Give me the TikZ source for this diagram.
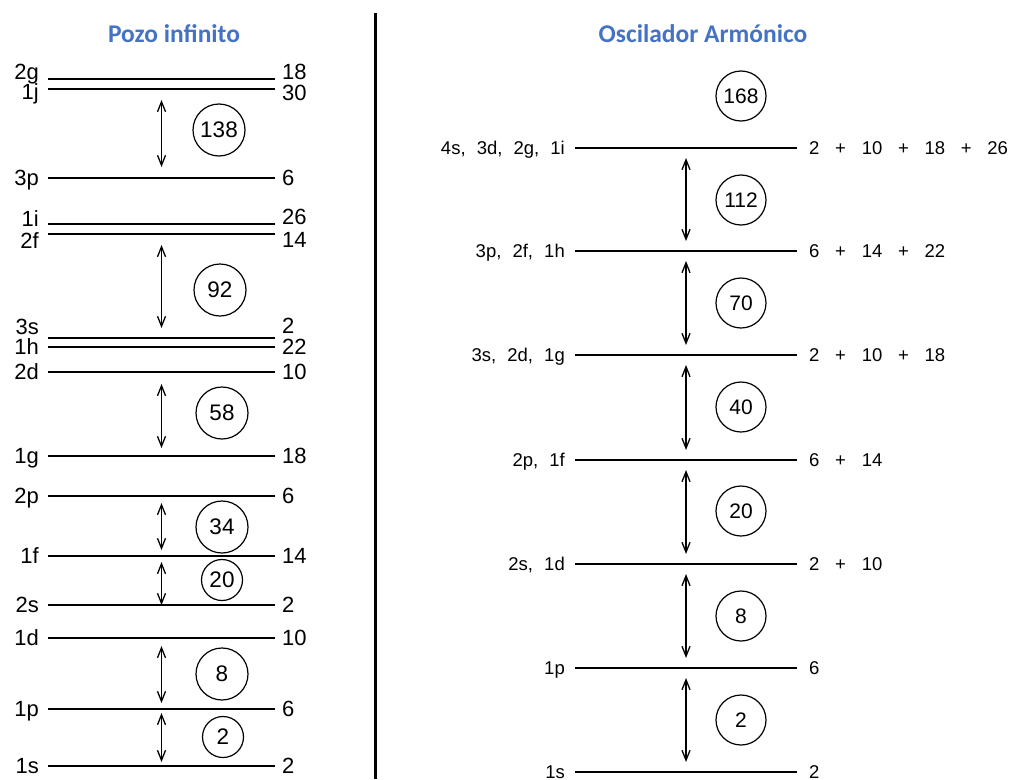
\documentclass[tikz,border=0pt]{standalone}
\usepackage{fontspec}
\setmainfont{Liberation Sans}
\newfontfamily\titlefont{Carlito}
\usepackage{tikz}
\usetikzlibrary{arrows.meta}
\definecolor{titleblue}{RGB}{68,114,196}

\begin{document}
\begin{tikzpicture}[
    x=1pt,y=-1pt,
    bar/.style={line width=2.6pt},
    lvl/.style={minimum width=227pt, minimum height=0pt, inner sep=0pt, outer sep=0pt,
      append after command={(\tikzlastnode.west) edge[bar] (\tikzlastnode.east)}},
    olvl/.style={lvl, minimum width=222pt},
    pname/.style={font=\fontsize{22}{25}\selectfont, inner sep=0pt, text height=15.5pt, text depth=0pt},
    oname/.style={font={\fontsize{18.5}{22}\selectfont\spaceskip=0.6em\relax}, inner sep=0pt,
      text height=13pt, text depth=0pt},
    osum/.style={font={\fontsize{18.5}{22}\selectfont\spaceskip=0.85em\relax}, inner sep=0pt,
      text height=13pt, text depth=0pt},
    pl/.style n args={2}{label={[pname, label distance=9pt, yshift=#2]left:{#1}}},
    pr/.style n args={2}{label={[pname, label distance=7pt, yshift=#2]right:{#1}}},
    ol/.style={label={[oname, label distance=10pt]left:{#1}}},
    or/.style={label={[osum, label distance=12pt]right:{#1}}},
    shell/.style={draw, circle, line width=1.2pt, inner sep=0pt, minimum size=52pt,
      font=\fontsize{22.5}{26}\selectfont},
    sshell/.style={shell, minimum size=41pt},
    oshell/.style={shell, minimum size=50pt, font=\fontsize{21}{25}\selectfont},
    jump/.style={{Straight Barb[length=10pt,width=8pt]}-{Straight Barb[length=10pt,width=8pt]},
      line width=1.3pt},
    title/.style={font={\titlefont\fontsize{25.5}{30}\selectfont\bfseries}, text=titleblue}
  ]
    \useasboundingbox (0,0) rectangle (1014,779);
    \clip (0,0) rectangle (1014,779);

    \node[title] (tpozo) at (174,34) {Pozo infinito};
    \node[title] (tosc) at (703,34) {Oscilador Armónico};
    \draw[line width=3pt] (375,13) -- (375,779);

    \node[lvl, pl={2g}{7pt}, pr={18}{7pt}] (p2g) at (161.5,79) {};
    \node[lvl, pl={1j}{-3pt}, pr={30}{-4pt}] (p1j) at (161.5,89) {};
    \node[lvl, pl={3p}{0pt}, pr={6}{0pt}] (p3p) at (161.5,178) {};
    \node[lvl, pl={1i}{5pt}, pr={26}{7pt}] (p1i) at (161.5,224) {};
    \node[lvl, pl={2f}{-7pt}, pr={14}{-6pt}] (p2f) at (161.5,234) {};
    \node[lvl, pl={3s}{11pt}, pr={2}{12pt}] (p3s) at (161.5,338) {};
    \node[lvl, pl={1h}{0pt}, pr={22}{0pt}] (p1h) at (161.5,347) {};
    \node[lvl, pl={2d}{0pt}, pr={10}{0pt}] (p2d) at (161.5,372) {};
    \node[lvl, pl={1g}{0pt}, pr={18}{0pt}] (p1g) at (161.5,456) {};
    \node[lvl, pl={2p}{0pt}, pr={6}{0pt}] (p2p) at (161.5,496) {};
    \node[lvl, pl={1f}{0pt}, pr={14}{0pt}] (p1f) at (161.5,556) {};
    \node[lvl, pl={2s}{0pt}, pr={2}{0pt}] (p2s) at (161.5,605) {};
    \node[lvl, pl={1d}{0pt}, pr={10}{0pt}] (p1d) at (161.5,638) {};
    \node[lvl, pl={1p}{0pt}, pr={6}{0pt}] (p1p) at (161.5,709) {};
    \node[lvl, pl={1s}{0pt}, pr={2}{0pt}] (p1s) at (161.5,766) {};

    \node[shell] (pc138) at (219,130) {138};
    \node[shell] (pc92) at (220,290) {92};
    \node[shell] (pc58) at (222,413) {58};
    \node[shell] (pc34) at (222,527) {34};
    \node[sshell] (pc20) at (222,580) {20};
    \node[shell] (pc8) at (222,674) {8};
    \node[sshell] (pc2) at (223,737) {2};

    \draw[jump, shorten <=11pt, shorten >=11pt] (p1j) -- (p3p);
    \draw[jump, shorten <=11pt, shorten >=10pt] (p2f) -- (p3s);
    \draw[jump, shorten <=12pt, shorten >=8pt] (p2d) -- (p1g);
    \draw[jump, shorten <=7pt, shorten >=6pt] (p2p) -- (p1f);
    \draw[jump, shorten <=6pt, shorten >=0pt] (p1f) -- (p2s);
    \draw[jump, shorten <=8pt, shorten >=6pt] (p1d) -- (p1p);
    \draw[jump, shorten <=4pt, shorten >=4pt] (p1p) -- (p1s);

    \node[olvl, ol={4s, 3d, 2g, 1i}, or={2 + 10 + 18 + 26}] (h4) at (686,148) {};
    \node[olvl, ol={3p, 2f, 1h}, or={6 + 14 + 22}] (h3) at (686,251) {};
    \node[olvl, ol={3s, 2d, 1g}, or={2 + 10 + 18}] (h2b) at (686,355) {};
    \node[olvl, ol={2p, 1f}, or={6 + 14}] (h2) at (686,460) {};
    \node[olvl, ol={2s, 1d}, or={2 + 10}] (h1b) at (686,564) {};
    \node[olvl, ol={1p}, or={6}] (h1) at (686,668) {};
    \node[olvl, ol={1s}, or={2}] (h0) at (686,772) {};

    \node[oshell] (hc168) at (741,96) {168};
    \node[oshell] (hc112) at (741,200) {112};
    \node[oshell] (hc70) at (741,303) {70};
    \node[oshell] (hc40) at (741,407) {40};
    \node[oshell] (hc20) at (741,511) {20};
    \node[oshell] (hc8) at (741,616) {8};
    \node[oshell] (hc2) at (741,720) {2};

    \draw[jump, shorten <=10pt, shorten >=10pt] (h4) -- (h3);
    \draw[jump, shorten <=10pt, shorten >=10pt] (h3) -- (h2b);
    \draw[jump, shorten <=10pt, shorten >=10pt] (h2b) -- (h2);
    \draw[jump, shorten <=10pt, shorten >=10pt] (h2) -- (h1b);
    \draw[jump, shorten <=10pt, shorten >=10pt] (h1b) -- (h1);
    \draw[jump, shorten <=10pt, shorten >=10pt] (h1) -- (h0);
  \end{tikzpicture}
\end{document}
